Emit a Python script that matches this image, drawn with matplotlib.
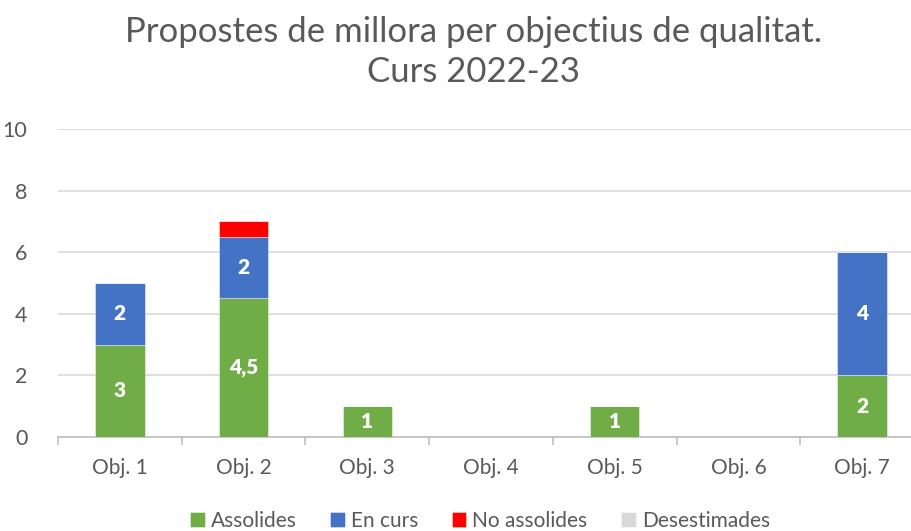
import matplotlib
matplotlib.use("Agg")
import matplotlib.pyplot as plt
import numpy as np

categories = ["Obj. 1", "Obj. 2", "Obj. 3", "Obj. 4", "Obj. 5", "Obj. 6", "Obj. 7"]
assolides = [3, 4.5, 1, 0, 1, 0, 2]
en_curs = [2, 2, 0, 0, 0, 0, 4]
no_assolides = [0, 0.5, 0, 0, 0, 0, 0]
desestimades = [0, 0, 0, 0, 0, 0, 0]
series_names = ["Assolides", "En curs", "No assolides", "Desestimades"]
colors = ["#70AD47", "#4472C4", "#FF0000", "#D9D9D9"]
show_labels = [True, True, False, False]
title = "Propostes de millora per objectius de qualitat.\nCurs 2022-23"

plt.rcParams['font.family'] = ['Lato', 'DejaVu Sans']
fig = plt.figure(figsize=(9.12, 5.31), dpi=100)
ax = fig.add_axes([58/912, 94/531, 866/912, 308/531])

x = np.arange(len(categories))
bottom = np.zeros(len(categories))
handles = []
for name, vals, col, lab in zip(series_names, [assolides, en_curs, no_assolides, desestimades], colors, show_labels):
    vals = np.array(vals, dtype=float)
    b = ax.bar(x, vals, width=0.4, bottom=bottom, color=col, edgecolor=(1, 1, 1, 0.5),
               linewidth=0.6, label=name, zorder=3)
    handles.append(b)
    if lab:
        for xi, v, bt in zip(x, vals, bottom):
            if v > 0:
                txt = ("%g" % v).replace(".", ",")
                ax.text(xi, bt + v / 2, txt, ha="center", va="center", color="white",
                        fontsize=15, fontweight="heavy", zorder=4)
    bottom += vals

ax.set_xlim(-0.5, len(categories) - 0.5)
ax.set_ylim(0, 10)
ax.set_yticks(np.arange(0, 11, 2))
ax.yaxis.grid(True, color="#D9D9D9", linewidth=1.2, zorder=0)
ax.set_axisbelow(True)
for s in ["top", "right", "left"]:
    ax.spines[s].set_visible(False)
ax.spines["bottom"].set_color("#BFBFBF")
ax.spines["bottom"].set_linewidth(1.2)
ax.tick_params(axis="y", length=0, labelsize=15.5, labelcolor="#595959", pad=22)
ax.set_xticks(x)
ax.set_xticklabels(categories)
ax.tick_params(axis="x", length=0, labelsize=15, labelcolor="#595959", pad=15)
ax.set_xticks(np.arange(-0.5, len(categories), 1), minor=True)
ax.tick_params(axis="x", which="minor", length=6, color="#BFBFBF", width=1.2)

fig.text(474/912, 1 - 52/531, title, ha="center", va="center", fontsize=25,
         color="#595959", linespacing=1.3)

fig.legend(handles=handles, labels=series_names, loc="center", bbox_to_anchor=(480/912, 1 - 521/531),
           ncol=4, frameon=False, fontsize=15, labelcolor="#595959", handlelength=0.7,
           handleheight=0.7, handletextpad=0.3, columnspacing=1.6)

fig.savefig("out.png", dpi=100)
